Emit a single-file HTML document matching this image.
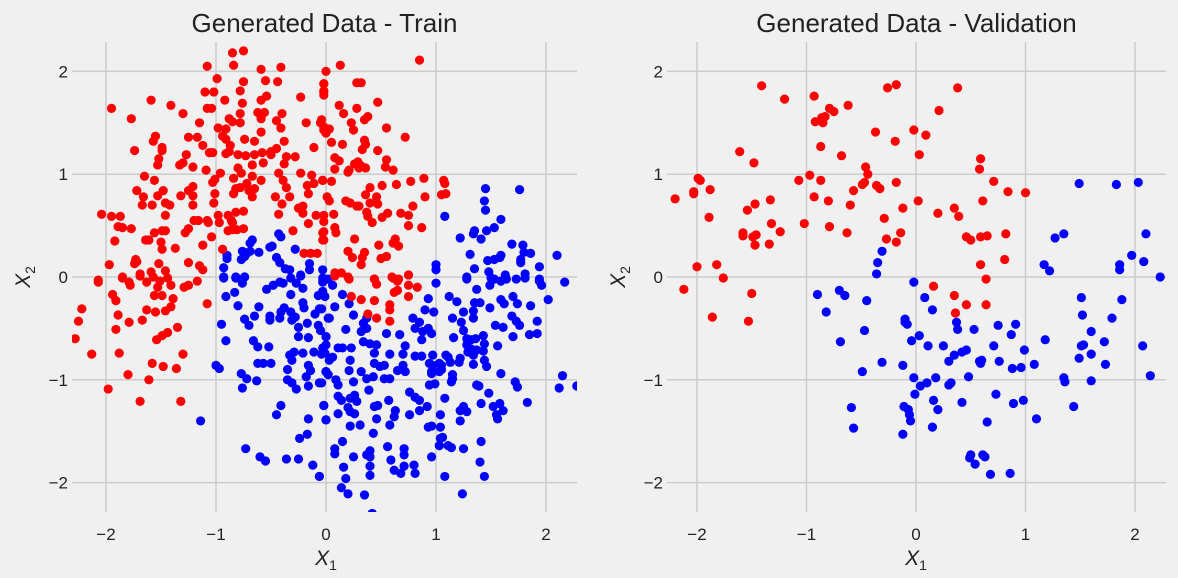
<!DOCTYPE html>
<html><head><meta charset="utf-8"><style>
html,body{margin:0;padding:0;background:#f0f0f0;}
svg{display:block;font-family:"Liberation Sans","DejaVu Sans",sans-serif;}
</style></head><body>
<svg id="fig" width="1178" height="578" viewBox="0 0 1178 578" xmlns="http://www.w3.org/2000/svg">
<rect x="0" y="0" width="1178" height="578" fill="#f0f0f0"/>
<defs>
<clipPath id="clipL"><rect x="72" y="42" width="505" height="470"/></clipPath>
<clipPath id="clipR"><rect x="667" y="42" width="499" height="470"/></clipPath>
</defs>
</svg>
<script>
const xTicks = [-2, -1, 0, 1, 2];
const yTicks = [-2, -1, 0, 1, 2];
const tickLabels = ["\u22122", "\u22121", "0", "1", "2"];
const titles = ["Generated Data - Train", "Generated Data - Validation"];

const trainRed = [[-0.85,2.18],[-0.75,2.20],[-1.08,2.05],[-0.84,2.06],[-0.59,2.02],[-0.41,2.04],[0.00,2.00],[-0.99,1.93],[-0.75,1.90],[-0.55,1.91],[-0.44,1.90],[-1.10,1.80],[-1.02,1.80],[-0.78,1.81],[-0.02,1.88],[-0.02,1.80],[-0.92,1.72],[-0.76,1.69],[-0.59,1.72],[-0.54,1.76],[-0.23,1.75],[-1.95,1.64],[-1.59,1.72],[-1.41,1.67],[-1.77,1.54],[-1.30,1.59],[-1.08,1.64],[-1.04,1.64],[-0.78,1.59],[-0.88,1.54],[-0.85,1.51],[-0.78,1.50],[-0.62,1.60],[-0.56,1.60],[-0.59,1.54],[-0.40,1.59],[-0.45,1.52],[-0.41,1.45],[-0.18,1.50],[-0.05,1.50],[-0.02,1.43],[-1.15,1.50],[-0.98,1.45],[-0.91,1.44],[-0.59,1.41],[-1.55,1.37],[-1.57,1.32],[-1.25,1.36],[-1.17,1.36],[-0.94,1.37],[-0.91,1.34],[-0.74,1.34],[-0.65,1.32],[-0.38,1.32],[-1.74,1.23],[-1.49,1.26],[-1.49,1.23],[-1.12,1.28],[-1.06,1.21],[-1.03,1.21],[-0.87,1.28],[-0.91,1.20],[-0.88,1.22],[-0.80,1.19],[-0.73,1.18],[-0.65,1.19],[-0.58,1.21],[-0.50,1.22],[-0.45,1.25],[-0.50,1.19],[-0.11,1.26],[-1.52,1.15],[-1.53,1.09],[-1.27,1.19],[-1.33,1.09],[-1.30,1.11],[-1.21,1.07],[-0.67,1.09],[-0.57,1.11],[-0.38,1.10],[-0.36,1.17],[-0.28,1.17],[-1.09,1.04],[-0.80,1.06],[-0.77,1.01],[-0.96,1.01],[-0.43,1.01],[-0.23,1.01],[-0.13,0.99],[-0.11,0.91],[-0.03,0.94],[-1.65,0.98],[-1.56,0.94],[-0.84,0.96],[-0.67,0.98],[-0.59,0.94],[-1.01,0.95],[-1.03,0.92],[-0.39,0.94],[-0.36,0.87],[-0.17,0.89],[-0.16,0.81],[-1.72,0.84],[-1.48,0.84],[-1.21,0.88],[-1.25,0.84],[-1.21,0.79],[-1.32,0.79],[-0.82,0.86],[-0.78,0.87],[-0.72,0.91],[-0.70,0.84],[-0.84,0.81],[-0.65,0.86],[-1.01,0.81],[-0.67,0.78],[-0.46,0.78],[-0.33,0.78],[-1.66,0.78],[-1.67,0.70],[-1.53,0.79],[-1.58,0.70],[-1.46,0.72],[-1.42,0.70],[-1.02,0.72],[-1.21,0.70],[-0.40,0.71],[-0.25,0.67],[-0.21,0.69],[-0.21,0.62],[-2.04,0.61],[-1.95,0.59],[-1.87,0.59],[-1.89,0.49],[-1.85,0.48],[-1.77,0.47],[-1.46,0.60],[-1.20,0.55],[-1.16,0.55],[-1.08,0.55],[-1.07,0.53],[-0.98,0.60],[-0.97,0.53],[-0.89,0.60],[-0.82,0.63],[-0.75,0.64],[-0.86,0.55],[-0.85,0.53],[-0.89,0.45],[-0.85,0.46],[-0.81,0.46],[-0.75,0.47],[-0.43,0.61],[-0.09,0.60],[-0.16,0.52],[-0.30,0.45],[-1.92,0.35],[-1.64,0.36],[-1.61,0.36],[-1.56,0.43],[-1.49,0.45],[-1.46,0.45],[-1.50,0.34],[-1.49,0.27],[-1.28,0.43],[-1.25,0.47],[-1.37,0.28],[-1.12,0.31],[-1.04,0.39],[-0.94,0.27],[-0.03,0.43],[-0.03,0.36],[-0.20,0.23],[-0.14,0.23],[-0.08,0.23],[-1.97,0.12],[-1.73,0.17],[-1.72,0.15],[-1.74,0.13],[-1.59,0.05],[-1.52,0.13],[-1.46,0.06],[-1.25,0.14],[-1.15,0.11],[-1.12,0.07],[-1.85,0.00],[-2.07,-0.03],[-1.69,0.03],
[0.85,2.11],[0.13,2.06],[-0.02,1.88],[-0.02,1.81],[-0.02,1.77],[0.28,1.89],[0.32,1.89],[0.47,1.70],[0.12,1.67],[0.16,1.59],[0.28,1.64],[0.35,1.53],[0.38,1.56],[0.23,1.50],[0.25,1.43],[-0.04,1.53],[-0.02,1.46],[0.00,1.40],[0.03,1.44],[0.55,1.45],[0.72,1.36],[0.05,1.31],[0.15,1.29],[0.35,1.33],[0.36,1.29],[0.33,1.24],[0.47,1.23],[0.55,1.14],[0.54,1.07],[0.08,1.16],[0.12,1.13],[0.26,1.10],[0.29,1.12],[0.32,1.08],[0.36,1.06],[0.30,1.06],[0.20,1.02],[0.21,1.04],[0.08,1.05],[0.61,1.04],[-0.03,0.94],[0.05,0.93],[0.89,0.96],[0.77,0.93],[0.64,0.90],[1.07,0.94],[1.08,0.91],[0.51,0.89],[0.40,0.87],[0.36,0.80],[0.90,0.78],[1.05,0.80],[1.09,0.81],[0.01,0.78],[0.03,0.74],[0.18,0.74],[0.22,0.72],[0.28,0.69],[0.30,0.69],[0.40,0.72],[0.46,0.78],[0.47,0.71],[0.79,0.69],[0.68,0.62],[0.75,0.60],[0.56,0.62],[0.51,0.58],[0.37,0.63],[0.38,0.59],[0.07,0.61],[-0.02,0.60],[-0.02,0.54],[0.42,0.53],[0.75,0.50],[0.87,0.48],[0.08,0.48],[0.09,0.43],[-0.02,0.44],[-0.02,0.36],[0.26,0.37],[0.63,0.37],[0.61,0.33],[0.66,0.30],[0.48,0.31],[0.20,0.25],[0.24,0.19],[0.35,0.24],[0.33,0.19],[0.32,0.12],[0.50,0.18],[0.55,0.20],[0.08,0.04],[0.14,0.04],[0.20,0.00],[0.44,-0.02],[0.60,0.00],[0.66,-0.02],[0.75,0.02],
[-2.07,-0.05],[-1.85,-0.01],[-1.79,-0.05],[-1.78,-0.08],[-1.69,0.01],[-1.63,-0.05],[-1.57,0.00],[-1.51,-0.04],[-1.44,-0.01],[-1.41,-0.08],[-1.53,-0.10],[-1.29,-0.10],[-1.25,-0.08],[-1.17,-0.04],[-1.94,-0.17],[-1.91,-0.23],[-1.56,-0.18],[-1.49,-0.18],[-1.39,-0.21],[-1.08,-0.26],[-2.22,-0.31],[-2.25,-0.43],[-1.89,-0.37],[-1.79,-0.44],[-1.67,-0.42],[-1.63,-0.32],[-1.55,-0.34],[-1.46,-0.33],[-1.41,-0.29],[-1.91,-0.51],[-1.35,-0.49],[-1.49,-0.57],[-1.44,-0.54],[-1.54,-0.61],[-2.28,-0.60],[-2.13,-0.75],[-1.88,-0.74],[-1.30,-0.75],[-1.58,-0.84],[-1.48,-0.87],[-1.36,-0.89],[-1.80,-0.95],[-1.61,-1.00],[-1.98,-1.09],[-1.69,-1.21],[-1.32,-1.21],
[0.08,0.01],[0.21,-0.02],[0.44,-0.02],[0.46,-0.07],[0.61,-0.01],[0.65,-0.04],[0.75,0.02],[0.75,-0.08],[0.83,-0.10],[0.23,-0.19],[0.32,-0.22],[0.44,-0.23],[0.62,-0.15],[0.65,-0.13],[0.58,-0.27],[0.58,-0.32],[0.75,-0.19],[0.38,-0.36],[0.46,-0.40],[0.58,-0.43]];

const trainBlue = [[-0.67,0.36],[-0.69,0.33],[-0.43,0.42],[-0.41,0.39],[-0.49,0.30],[-0.51,0.29],[-0.28,0.27],[-0.61,0.24],[-0.90,0.21],[-0.90,0.18],[-0.76,0.25],[-0.72,0.23],[-0.69,0.25],[-0.77,0.17],[-0.74,0.20],[-0.45,0.19],[-0.42,0.14],[-0.37,0.08],[-0.33,0.07],[-0.15,0.13],[-0.15,0.07],[-0.93,0.09],[-0.93,0.00],[-0.82,0.00],[-0.74,0.00],[-0.23,0.02],[-0.03,0.07],
[1.45,0.86],[1.76,0.85],[1.44,0.74],[1.45,0.65],[1.08,0.59],[1.59,0.56],[1.35,0.45],[1.34,0.42],[1.46,0.45],[1.53,0.48],[1.41,0.37],[1.22,0.38],[1.69,0.32],[1.79,0.31],[1.80,0.24],[1.86,0.23],[2.10,0.21],[1.31,0.22],[1.47,0.16],[1.53,0.17],[1.58,0.19],[1.59,0.21],[1.77,0.17],[1.77,0.14],[1.94,0.10],[1.00,0.12],[1.00,0.07],[1.35,0.08],[1.48,0.05],[1.28,0.00],[1.63,0.02],[1.81,0.03],[0.02,-0.02],[1.94,-0.02],
[-0.93,-0.01],[-0.82,-0.01],[-0.74,0.00],[-0.76,-0.06],[-0.91,-0.19],[-0.83,-0.15],[-0.80,-0.28],[-0.95,-0.46],[-0.91,-0.62],[-0.74,-0.41],[-0.70,-0.47],[-0.65,-0.38],[-0.61,-0.29],[-0.54,-0.12],[-0.48,-0.08],[-0.42,-0.05],[-0.39,-0.06],[-0.32,-0.01],[-0.27,-0.06],[-0.21,-0.11],[-0.23,0.01],[-0.32,-0.17],[-0.21,-0.25],[-0.20,-0.30],[-0.07,-0.18],[-0.03,-0.14],[-0.01,-0.19],[-0.03,-0.01],[-0.51,-0.38],[-0.51,-0.42],[-0.42,-0.40],[-0.41,-0.34],[-0.38,-0.30],[-0.32,-0.34],[-0.31,-0.42],[-0.28,-0.39],[-0.25,-0.49],[-0.25,-0.58],[-0.17,-0.45],[-0.16,-0.59],[-0.10,-0.36],[-0.06,-0.31],[-0.07,-0.47],[-0.05,-0.52],[0.02,-0.40],[0.00,-0.58],[0.00,-0.66],[-0.01,-0.74],[-0.66,-0.62],[-0.62,-0.68],[-0.52,-0.68],[-0.62,-0.84],[-0.57,-0.84],[-0.50,-0.84],[-0.33,-0.76],[-0.29,-0.73],[-0.21,-0.74],[-0.31,-0.81],[-0.11,-0.73],[-0.35,-0.90],[-0.16,-0.86],[-0.14,-0.91],[-0.18,-0.97],[-1.00,-0.86],[-0.97,-0.89],[-0.77,-0.94],[-0.72,-0.99],[-0.63,-1.01],[-0.76,-1.08],[-0.35,-1.00],[-0.31,-1.03],[-0.27,-1.09],[-0.16,-1.06],[-0.04,-1.03],[0.00,-0.92],[-0.41,-1.25],[-0.45,-1.34],[-0.02,-1.25],[0.00,-1.39],[-0.16,-1.38],[-1.14,-1.40],[-0.17,-1.53],[-0.24,-1.57],[-0.73,-1.67],[-0.60,-1.75],[-0.55,-1.79],[-0.36,-1.77],[-0.25,-1.77],[-0.12,-1.83],[-0.06,-1.94],
[-0.03,-0.05],[0.06,-0.08],[0.15,-0.17],[0.21,-0.26],[0.25,-0.37],[0.08,-0.29],[-0.04,-0.31],[0.03,-0.40],[0.18,-0.51],[0.34,-0.45],[0.37,-0.50],[0.32,-0.53],[0.37,-0.40],[0.00,-0.58],[-0.03,-0.69],[-0.04,-0.75],[0.11,-0.69],[0.15,-0.69],[0.23,-0.69],[0.06,-0.78],[0.03,-0.81],[0.34,-0.63],[0.40,-0.65],[0.46,-0.66],[0.44,-0.74],[0.58,-0.75],[0.55,-0.55],[0.67,-0.56],[0.72,-0.67],[0.70,-0.75],[0.79,-0.40],[0.85,-0.44],[0.81,-0.50],[0.87,-0.61],[0.88,-0.53],[0.93,-0.50],[0.96,-0.55],[0.81,-0.77],[0.87,-0.77],[0.22,-0.81],[0.21,-0.91],[0.32,-0.92],[0.00,-0.92],[0.02,-0.95],[0.09,-1.00],[0.11,-1.05],[-0.06,-1.03],[0.25,-1.02],[0.37,-0.99],[0.39,-1.10],[0.44,-0.84],[0.49,-0.87],[0.53,-0.86],[0.43,-0.97],[0.53,-0.99],[0.58,-0.99],[0.65,-0.91],[0.70,-0.86],[0.72,-0.92],[0.94,-0.84],[0.96,-0.94],[1.05,-0.86],[1.03,-0.92],[0.94,-1.05],[0.99,-1.04],[0.97,-0.86],[1.15,-0.95],[1.14,-1.02],[1.11,-0.78],[1.08,-1.18],[1.15,-0.99],[0.11,-1.16],[0.14,-1.20],[0.22,-1.18],[0.26,-1.15],[0.28,-1.21],[0.20,-1.27],[0.26,-1.33],[0.22,-1.31],[0.11,-1.33],[0.00,-1.39],[-0.02,-1.25],[0.31,-1.44],[0.22,-1.45],[0.44,-1.26],[0.47,-1.25],[0.46,-1.38],[0.57,-1.20],[0.63,-1.30],[0.62,-1.36],[0.58,-1.44],[0.76,-1.12],[0.81,-1.17],[0.85,-1.20],[0.85,-1.30],[0.92,-1.26],[0.76,-1.34],[0.93,-1.46],[0.96,-1.45],[1.04,-1.46],[1.04,-1.34],[1.22,-1.30],[1.25,-1.26],[1.28,-1.31],[1.22,-1.40],[1.37,-1.05],[1.39,-1.06],[1.48,-1.13],[1.41,-1.23],[1.52,-1.26],[1.58,-1.23],[1.61,-1.30],[1.56,-1.38],[1.55,-1.34],[1.72,-1.02],[1.74,-1.07],[1.83,-1.22],[1.59,-0.94],[2.15,-0.96],[2.12,-1.08],[2.28,-1.06],[0.43,-1.52],[0.15,-1.60],[0.08,-1.67],[0.08,-1.72],[0.25,-1.75],[0.37,-1.73],[0.40,-1.69],[0.40,-1.75],[0.56,-1.65],[0.71,-1.67],[0.71,-1.73],[0.59,-1.78],[0.96,-1.75],[1.03,-1.64],[1.04,-1.57],[1.06,-1.56],[1.11,-1.64],[1.14,-1.66],[1.25,-1.67],[1.41,-1.60],[1.40,-1.80],[1.44,-1.94],[0.16,-1.85],[0.18,-1.96],[0.40,-1.84],[0.40,-1.93],[0.62,-1.88],[0.68,-1.91],[0.71,-1.84],[0.80,-1.83],[0.81,-1.91],[-0.06,-1.94],[0.14,-2.05],[0.20,-2.11],[0.35,-2.12],[1.08,-1.94],[1.24,-2.11],[0.42,-2.30],
[1.00,-0.06],[1.28,-0.02],[1.37,-0.12],[1.49,-0.08],[1.53,-0.02],[1.59,-0.04],[1.64,-0.02],[1.50,-0.01],[1.73,-0.02],[1.81,-0.01],[1.94,-0.04],[1.96,-0.08],[2.17,-0.05],[2.02,-0.22],[0.93,-0.21],[1.12,-0.19],[1.19,-0.24],[1.35,-0.25],[1.40,-0.25],[1.49,-0.30],[1.59,-0.22],[1.62,-0.26],[1.70,-0.19],[1.74,-0.26],[1.86,-0.28],[0.90,-0.32],[0.98,-0.34],[1.25,-0.34],[1.34,-0.33],[1.34,-0.40],[1.15,-0.40],[1.23,-0.44],[1.25,-0.52],[1.54,-0.47],[1.61,-0.49],[1.69,-0.38],[1.73,-0.43],[1.76,-0.47],[1.92,-0.43],[1.70,-0.58],[1.85,-0.56],[1.92,-0.55],[1.16,-0.59],[1.28,-0.60],[1.32,-0.61],[1.36,-0.60],[1.43,-0.57],[1.28,-0.66],[1.32,-0.70],[1.37,-0.71],[1.44,-0.65],[1.43,-0.72],[1.56,-0.67],[0.97,-0.76],[1.03,-0.84],[1.05,-0.90],[0.96,-0.92],[1.09,-0.76],[1.13,-0.83],[1.22,-0.79],[1.21,-0.83],[1.29,-0.73],[1.34,-0.76],[1.34,-0.85],[1.44,-0.81],[1.46,-0.87]];

const valRed = [[-2.20,0.76],[-2.12,-0.12],[-2.03,0.81],[-2.03,0.83],[-1.99,0.96],[-1.97,0.94],[-2.00,0.10],[-1.88,0.85],[-1.89,0.58],[-1.82,0.12],[-1.76,-0.01],[-1.86,-0.39],[-1.61,1.22],[-1.48,1.11],[-1.41,1.86],[-1.20,1.73],[-1.54,0.65],[-1.47,0.71],[-1.58,0.43],[-1.58,0.40],[-1.49,0.39],[-1.46,0.41],[-1.47,0.31],[-1.33,0.75],[-1.32,0.52],[-1.34,0.32],[-1.24,0.44],[-1.50,-0.16],[-1.53,-0.43],[-1.07,0.94],[-0.97,0.99],[-1.02,0.52],[-0.93,1.76],[-0.92,1.51],[-0.85,1.50],[-0.83,1.56],[-0.86,1.55],[-0.79,1.64],[-0.75,1.61],[-0.87,1.27],[-0.87,0.94],[-0.93,0.78],[-0.80,0.74],[-0.79,0.49],[-0.68,1.18],[-0.62,1.67],[-0.57,0.84],[-0.60,0.70],[-0.63,0.43],[-0.46,1.07],[-0.44,1.00],[-0.49,0.90],[-0.47,0.92],[-0.37,1.41],[-0.36,0.89],[-0.33,0.86],[-0.29,0.57],[-0.27,0.37],[-0.26,1.84],[-0.18,1.87],[-0.19,1.32],[-0.18,0.92],[-0.18,0.34],[-0.14,0.43],[-0.12,0.67],[-0.02,1.43],[0.09,1.38],[0.03,1.19],[0.02,0.74],[0.21,1.62],[0.20,0.62],[0.38,1.84],[0.35,0.67],[0.39,0.59],[0.46,0.39],[0.50,0.36],[0.59,1.15],[0.58,1.05],[0.61,0.74],[0.71,0.93],[0.84,0.83],[1.00,0.82],[0.59,0.39],[0.65,0.40],[0.82,0.42],[0.81,0.17],[0.59,0.12],[0.64,-0.02],[0.16,-0.09],[0.35,-0.18],[0.36,-0.35],[0.46,-0.27],[0.64,-0.27]];

const valBlue = [[-0.31,0.25],[-0.35,0.14],[-0.36,0.03],[-0.90,-0.17],[-0.82,-0.34],[-0.70,-0.13],[-0.65,-0.18],[-0.45,-0.23],[-0.69,-0.63],[-0.47,-0.52],[-0.49,-0.92],[-0.31,-0.83],[-0.59,-1.27],[-0.57,-1.47],[-0.02,-0.05],[0.08,-0.20],[0.15,-0.32],[-0.10,-0.41],[-0.10,-0.44],[-0.08,-0.46],[0.03,-0.57],[-0.04,-0.62],[0.11,-0.67],[0.25,-0.67],[-0.12,-0.86],[-0.02,-0.98],[-0.01,-1.14],[0.04,-1.06],[0.10,-1.03],[0.18,-0.98],[0.30,-0.82],[0.30,-1.05],[0.32,-1.03],[0.35,-0.76],[0.37,-0.44],[0.38,-0.51],[0.42,-0.73],[0.46,-0.71],[0.48,-0.97],[0.53,-0.51],[-0.11,-1.26],[-0.07,-1.29],[-0.06,-1.34],[-0.05,-1.40],[-0.12,-1.53],[0.16,-1.20],[0.20,-1.29],[0.15,-1.46],[0.42,-1.22],[0.58,-0.82],[0.59,-0.84],[0.60,-0.81],[0.75,-0.47],[0.71,-0.67],[0.76,-0.82],[0.73,-1.14],[0.91,-0.46],[0.87,-0.56],[0.99,-0.71],[0.88,-0.89],[0.96,-0.88],[1.08,-0.85],[0.89,-1.23],[0.98,-1.20],[1.10,-1.38],[0.65,-1.41],[0.50,-1.73],[0.49,-1.76],[0.54,-1.82],[0.61,-1.73],[0.63,-1.75],[0.68,-1.92],[0.86,-1.91],[1.18,-0.61],[1.27,0.38],[1.35,0.42],[1.17,0.12],[1.22,0.06],[1.49,0.91],[1.83,0.90],[2.03,0.92],[2.10,0.42],[1.97,0.21],[2.08,0.15],[1.86,0.12],[1.86,0.07],[2.23,0.00],[1.51,-0.20],[1.52,-0.37],[1.88,-0.22],[1.60,-0.53],[1.79,-0.40],[1.72,-0.63],[1.51,-0.67],[1.53,-0.66],[1.49,-0.79],[1.60,-0.75],[1.73,-0.85],[2.07,-0.67],[2.14,-0.96],[1.35,-0.98],[1.36,-1.02],[1.60,-1.01],[1.44,-1.26]];

const NS = "http://www.w3.org/2000/svg";
const svg = document.getElementById('fig');
function mk(tag, attrs, parent) {
  const e = document.createElementNS(NS, tag);
  for (const k in attrs) e.setAttribute(k, attrs[k]);
  (parent || svg).appendChild(e);
  return e;
}
const panels = [
  {key:'train', x0:326, ux:110, left:72, right:577, clip:'clipL', red:trainRed, blue:trainBlue, title:titles[0]},
  {key:'validation', x0:916, ux:109.5, left:667, right:1166, clip:'clipR', red:valRed, blue:valBlue, title:titles[1]}
];
const Y0 = 277, UY = 102.8, TOP = 42, BOTTOM = 512;

panels.forEach(p => {
  const sx = v => p.x0 + v * p.ux;
  const sy = v => Y0 - v * UY;
  const g = mk('g', {});
  
  
  const grid = mk('g', {}, g);
  
  
  xTicks.forEach((t, i) => {
    const l = mk('line', {x1:sx(t), x2:sx(t), y1:TOP, y2:BOTTOM, stroke:'#cbcbcb', 'stroke-width':1.5}, grid);
    
    
    const tx = mk('text', {x:sx(t), y:540, 'text-anchor':'middle', 'font-size':17, fill:'#222'}, g);
    
    
    tx.textContent = tickLabels[i];
  });
  yTicks.forEach((t, i) => {
    const l = mk('line', {x1:p.left, x2:p.right, y1:sy(t), y2:sy(t), stroke:'#cbcbcb', 'stroke-width':1.5}, grid);
    
    
    const tx = mk('text', {x:p.left - 4, y:sy(t) + 6, 'text-anchor':'end', 'font-size':17, fill:'#222'}, g);
    
    
    tx.textContent = tickLabels[i];
  });
  const pts = mk('g', {'clip-path':'url(#' + p.clip + ')'}, g);
  
  
  p.blue.forEach(d => {
    const c = mk('circle', {cx:sx(d[0]), cy:sy(d[1]), r:4.6, fill:'#0000ff'}, pts);
    
    
  });
  p.red.forEach(d => {
    const c = mk('circle', {cx:sx(d[0]), cy:sy(d[1]), r:4.6, fill:'#ff0000'}, pts);
    
    
  });
  const ti = mk('text', {x:(p.left + p.right) / 2, y:32, 'text-anchor':'middle', 'font-size':26, fill:'#222'}, g);
  
  
  ti.textContent = p.title;
  const xl = mk('text', {x:sx(0), y:565, 'text-anchor':'middle', 'font-size':21, 'font-style':'italic', fill:'#222'}, g);
  
  
  xl.innerHTML = 'X<tspan font-style="normal" font-size="14" dy="5">1</tspan>';
  const ylx = p.left - 42;
  const yl = mk('text', {x:ylx, y:Y0, 'text-anchor':'middle', 'font-size':21, 'font-style':'italic', fill:'#222', transform:'rotate(-90 ' + ylx + ' ' + Y0 + ')'}, g);
  
  
  yl.innerHTML = 'X<tspan font-style="normal" font-size="14" dy="5">2</tspan>';
});
</script>
</body></html>
